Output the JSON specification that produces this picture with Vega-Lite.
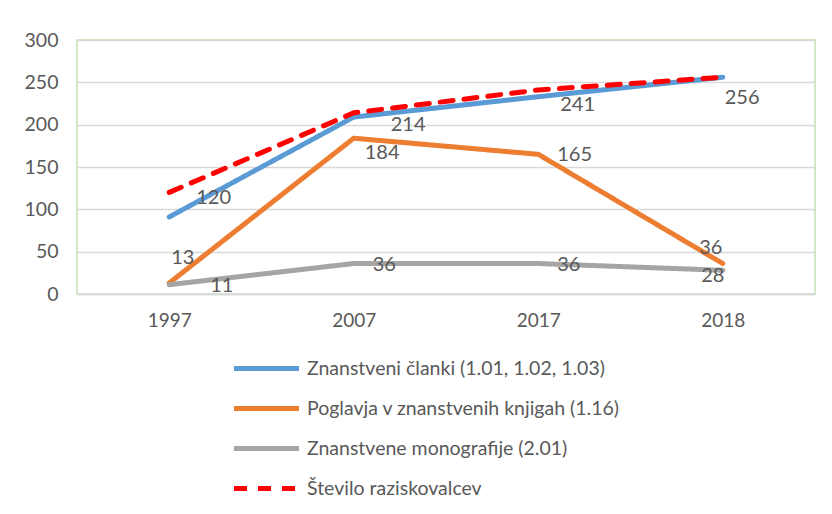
{
  "$schema": "https://vega.github.io/schema/vega-lite/v6.json",
  "width": 738,
  "height": 254,
  "autosize": {"type": "none"},
  "padding": {"left": 77, "top": 40, "right": 17, "bottom": 220},
  "background": "white",
  "config": {
    "font": "Lato",
    "view": {"stroke": "#c5e0b4", "strokeWidth": 1.5},
    "text": {"font": "Lato", "fontSize": 20, "color": "#595959"}
  },
  "data": {
    "values": [
      {"year": "1997", "series": "Znanstveni članki (1.01, 1.02, 1.03)", "value": 91},
      {"year": "2007", "series": "Znanstveni članki (1.01, 1.02, 1.03)", "value": 209},
      {"year": "2017", "series": "Znanstveni članki (1.01, 1.02, 1.03)", "value": 233},
      {"year": "2018", "series": "Znanstveni članki (1.01, 1.02, 1.03)", "value": 256},
      {"year": "1997", "series": "Poglavja v znanstvenih knjigah (1.16)", "value": 13},
      {"year": "2007", "series": "Poglavja v znanstvenih knjigah (1.16)", "value": 184},
      {"year": "2017", "series": "Poglavja v znanstvenih knjigah (1.16)", "value": 165},
      {"year": "2018", "series": "Poglavja v znanstvenih knjigah (1.16)", "value": 36},
      {"year": "1997", "series": "Znanstvene monografije (2.01)", "value": 11},
      {"year": "2007", "series": "Znanstvene monografije (2.01)", "value": 36},
      {"year": "2017", "series": "Znanstvene monografije (2.01)", "value": 36},
      {"year": "2018", "series": "Znanstvene monografije (2.01)", "value": 28},
      {"year": "1997", "series": "Število raziskovalcev", "value": 120},
      {"year": "2007", "series": "Število raziskovalcev", "value": 214},
      {"year": "2017", "series": "Število raziskovalcev", "value": 241},
      {"year": "2018", "series": "Število raziskovalcev", "value": 256}
    ]
  },
  "encoding": {
    "x": {
      "field": "year", "type": "ordinal",
      "scale": {"type": "point", "padding": 0.5},
      "axis": {"title": null, "labelAngle": 0, "ticks": false, "domainColor": "#d9d9d9", "domainWidth": 1.5,
               "labelFont": "Lato", "labelFontSize": 19, "labelColor": "#595959", "labelPadding": 17}
    },
    "y": {
      "field": "value", "type": "quantitative",
      "scale": {"domain": [0, 300], "nice": false},
      "axis": {"title": null, "values": [0, 50, 100, 150, 200, 250, 300], "ticks": false, "domain": false,
               "gridColor": "#d9d9d9", "gridWidth": 1.5,
               "labelFont": "Lato", "labelFontSize": 19.5, "labelColor": "#595959", "labelPadding": 19}
    }
  },
  "layer": [
    {
      "mark": {"type": "line", "strokeWidth": 5, "strokeCap": "round", "strokeJoin": "round"},
      "encoding": {
        "color": {
          "field": "series", "type": "nominal",
          "scale": {
            "domain": ["Znanstveni članki (1.01, 1.02, 1.03)", "Poglavja v znanstvenih knjigah (1.16)", "Znanstvene monografije (2.01)", "Število raziskovalcev"],
            "range": ["#5b9bd5", "#ed7d31", "#a5a5a5", "#ff0000"]
          },
          "legend": {
            "title": null, "orient": "none", "legendX": 174, "legendY": 313,
            "direction": "vertical",
            "symbolType": "M-2.5,0H2.5", "symbolSize": 676, "symbolStrokeWidth": 5,
            "labelFont": "Lato", "labelFontSize": 19.5, "labelColor": "#595959",
            "labelLimit": 500, "rowPadding": 14, "labelOffset": 25
          }
        },
        "strokeDash": {
          "field": "series", "type": "nominal",
          "scale": {
            "domain": ["Znanstveni članki (1.01, 1.02, 1.03)", "Poglavja v znanstvenih knjigah (1.16)", "Znanstvene monografije (2.01)", "Število raziskovalcev"],
            "range": [[1, 0], [1, 0], [1, 0], [13, 11]]
          },
          "legend": {
            "title": null, "orient": "none", "legendX": 174, "legendY": 313,
            "direction": "vertical",
            "symbolType": "M-2.5,0H2.5", "symbolSize": 676, "symbolStrokeWidth": 5,
            "labelFont": "Lato", "labelFontSize": 19.5, "labelColor": "#595959",
            "labelLimit": 500, "rowPadding": 14, "labelOffset": 25
          }
        },
        "order": {"field": "series"}
      }
    },
    {
      "transform": [{"filter": "datum.series == 'Število raziskovalcev' && datum.year == '1997'"}],
      "mark": {"type": "text", "align": "left", "baseline": "middle", "dx": 27, "dy": 6},
      "encoding": {"text": {"field": "value"}}
    },
    {
      "transform": [{"filter": "datum.series == 'Število raziskovalcev' && datum.year == '2007'"}],
      "mark": {"type": "text", "align": "left", "baseline": "middle", "dx": 37, "dy": 12},
      "encoding": {"text": {"field": "value"}}
    },
    {
      "transform": [{"filter": "datum.series == 'Število raziskovalcev' && datum.year == '2017'"}],
      "mark": {"type": "text", "align": "left", "baseline": "middle", "dx": 22, "dy": 15},
      "encoding": {"text": {"field": "value"}}
    },
    {
      "transform": [{"filter": "datum.series == 'Število raziskovalcev' && datum.year == '2018'"}],
      "mark": {"type": "text", "align": "left", "baseline": "middle", "dx": 2, "dy": 21},
      "encoding": {"text": {"field": "value"}}
    },
    {
      "transform": [{"filter": "datum.series == 'Poglavja v znanstvenih knjigah (1.16)' && datum.year == '1997'"}],
      "mark": {"type": "text", "align": "left", "baseline": "middle", "dx": 2, "dy": -25},
      "encoding": {"text": {"field": "value"}}
    },
    {
      "transform": [{"filter": "datum.series == 'Poglavja v znanstvenih knjigah (1.16)' && datum.year == '2007'"}],
      "mark": {"type": "text", "align": "left", "baseline": "middle", "dx": 11, "dy": 15},
      "encoding": {"text": {"field": "value"}}
    },
    {
      "transform": [{"filter": "(datum.series == 'Poglavja v znanstvenih knjigah (1.16)' && datum.year == '2017') || (datum.series == 'Znanstvene monografije (2.01)' && (datum.year == '2007' || datum.year == '2017'))"}],
      "mark": {"type": "text", "align": "left", "baseline": "middle", "dx": 19, "dy": 1},
      "encoding": {"text": {"field": "value"}}
    },
    {
      "transform": [{"filter": "datum.series == 'Poglavja v znanstvenih knjigah (1.16)' && datum.year == '2018'"}],
      "mark": {"type": "text", "align": "center", "baseline": "middle", "dx": -12, "dy": -16},
      "encoding": {"text": {"field": "value"}}
    },
    {
      "transform": [{"filter": "datum.series == 'Znanstvene monografije (2.01)' && datum.year == '1997'"}],
      "mark": {"type": "text", "align": "left", "baseline": "middle", "dx": 41, "dy": 1},
      "encoding": {"text": {"field": "value"}}
    },
    {
      "transform": [{"filter": "datum.series == 'Znanstvene monografije (2.01)' && datum.year == '2018'"}],
      "mark": {"type": "text", "align": "center", "baseline": "middle", "dx": -10, "dy": 6},
      "encoding": {"text": {"field": "value"}}
    }
  ]
}
